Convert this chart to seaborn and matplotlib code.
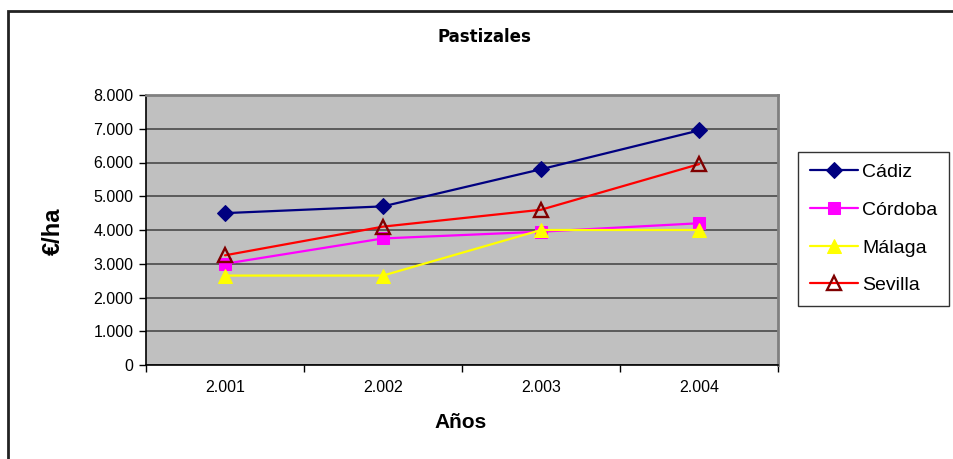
import matplotlib
matplotlib.use("Agg")
import matplotlib.pyplot as plt
import matplotlib.ticker as mticker
from matplotlib.patches import Rectangle
import seaborn as sns

years = ["2.001", "2.002", "2.003", "2.004"]
cadiz = [4500, 4700, 5800, 6950]
cordoba = [3000, 3750, 3950, 4200]
malaga = [2650, 2650, 4000, 4000]
sevilla = [3250, 4100, 4600, 5950]

sns.set_theme(style="white")
plt.rcParams["font.family"] = ["Liberation Sans", "DejaVu Sans"]
plt.rcParams["text.color"] = "black"
plt.rcParams["xtick.color"] = "black"
plt.rcParams["ytick.color"] = "black"

fig = plt.figure(figsize=(9.54, 4.59), dpi=100)
ax = fig.add_axes([146 / 954, 1 - 365 / 459, 632 / 954, 270 / 459])
ax.set_facecolor("#C0C0C0")

pos = list(range(len(years)))
series = [
    ("Cádiz", cadiz, dict(color="#000080", marker="D", markersize=8.5,
                          markerfacecolor="#000080", markeredgecolor="#000080")),
    ("Córdoba", cordoba, dict(color="#FF00FF", marker="s", markersize=9,
                              markerfacecolor="#FF00FF", markeredgecolor="#FF00FF")),
    ("Málaga", malaga, dict(color="#FFFF00", marker="^", markersize=10.5,
                            markerfacecolor="#FFFF00", markeredgecolor="#FFFF00")),
    ("Sevilla", sevilla, dict(color="#FF0000", marker="^", markersize=9.5,
                              markerfacecolor="none", markeredgecolor="#800000",
                              markeredgewidth=1.7)),
]
for name, vals, kw in series:
    sns.lineplot(x=pos, y=vals, ax=ax, label=name, linewidth=1.6, **kw)

ax.set_xlim(-0.5, 3.5)
ax.set_ylim(0, 8000)
ax.set_yticks(range(0, 8001, 1000))
ax.yaxis.set_major_formatter(mticker.FuncFormatter(
    lambda v, p: f"{int(v):,}".replace(",", ".")))
ax.set_xticks(pos)
ax.set_xticklabels(years)
ax.set_xticks([p - 0.5 for p in range(len(years) + 1)], minor=True)
ax.tick_params(axis="x", which="major", length=0, pad=11, labelsize=11.5, colors="black")
ax.tick_params(axis="x", which="minor", length=5, width=1, direction="out", color="black", bottom=True)
ax.tick_params(axis="y", which="major", length=5, width=1, direction="out", color="black",
               left=True, pad=4, labelsize=11.5, labelcolor="black")
ax.grid(axis="y", color="#4a4a4a", linewidth=1.2)
ax.set_axisbelow(True)
for s in ["left", "bottom"]:
    ax.spines[s].set_color("black")
    ax.spines[s].set_linewidth(1.2)
for s in ["top", "right"]:
    ax.spines[s].set_color("#808080")
    ax.spines[s].set_linewidth(2)

ax.set_xlabel("")
ax.set_ylabel("")
fig.text(461 / 954, 1 - 423 / 459, "Años", ha="center", va="center",
         fontsize=15, fontweight="bold", color="black")
fig.text(53 / 954, 1 - 231 / 459, "€/ha", ha="center", va="center", rotation=90,
         fontsize=17, fontweight="bold", color="black")
fig.text(484 / 954, 1 - 37 / 459, "Pastizales", ha="center", va="center",
         fontsize=12, fontweight="bold", family="DejaVu Sans", color="black")

leg = ax.legend(loc="upper left", bbox_to_anchor=(798 / 954, 1 - 152 / 459),
                bbox_transform=fig.transFigure, borderaxespad=0, fontsize=14,
                frameon=True, fancybox=False, handlelength=2.5, handletextpad=0.2,
                labelspacing=1.03, borderpad=0.6)
leg.get_frame().set_edgecolor("black")
leg.get_frame().set_linewidth(1)
leg.get_frame().set_facecolor("white")
for t in leg.get_texts():
    t.set_color("black")

fig.patches.append(Rectangle((8 / 954, -0.1), 2, 1 - 11 / 459 + 0.1,
                             transform=fig.transFigure, fill=False,
                             edgecolor="#222222", linewidth=2, figure=fig))

fig.savefig("out.png", dpi=100)
